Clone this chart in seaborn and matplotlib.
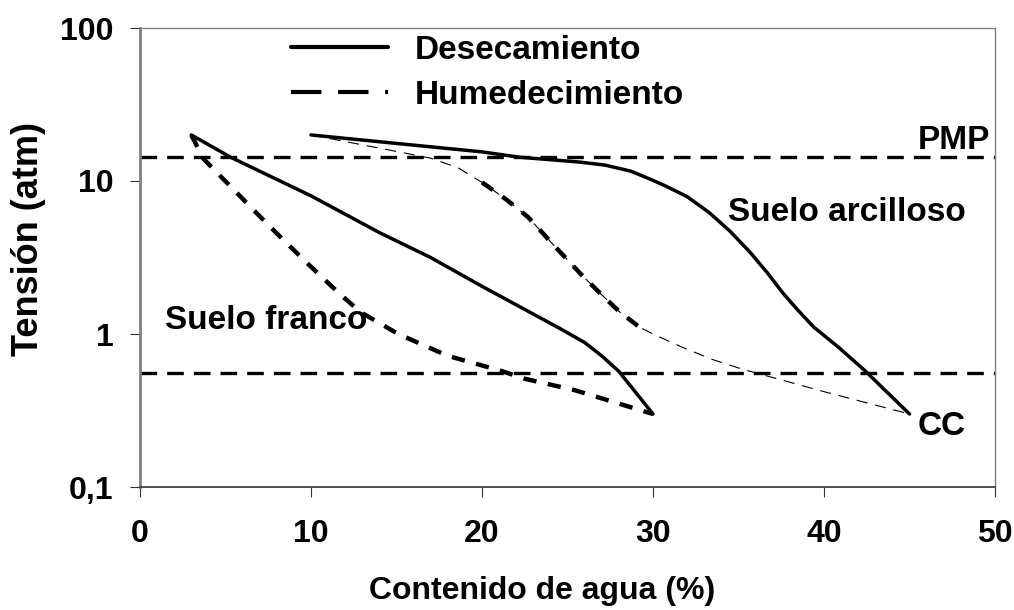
import matplotlib
matplotlib.use("Agg")
import matplotlib.pyplot as plt
import seaborn as sns
import pandas as pd
from matplotlib.lines import Line2D
from matplotlib.ticker import FixedLocator, NullLocator, FixedFormatter

# ---------------- data ----------------
franco_dry_x = [3, 5.3, 10, 14, 17, 20, 24.6, 26, 27, 28, 30]
franco_dry_y = [20, 14.3, 8, 4.6, 3.16, 2.05, 1.08, 0.88, 0.72, 0.57, 0.3]

franco_wet_x = [3, 3.7, 5.1, 6.8, 8.4, 10, 11.7, 12.9, 15.1, 18, 21.1, 22.5, 25.4, 28.4, 30]
franco_wet_y = [20, 14, 9.7, 6.2, 4.1, 2.75, 1.82, 1.39, 1.0, 0.72, 0.575, 0.51, 0.43, 0.34, 0.3]

arc_dry_x = [10, 15, 20, 22.2, 25.7, 27.2, 28.7, 30, 30.8, 32, 33.3, 34.5, 35.7, 36.7, 37.6, 38.5, 39.4, 40.9, 42.4, 45]
arc_dry_y = [20, 17.6, 15.5, 14.3, 13.3, 12.7, 11.6, 10.1, 9.2, 7.9, 6.2, 4.7, 3.4, 2.5, 1.85, 1.42, 1.11, 0.81, 0.575, 0.3]

arc_wet_x = [10, 14, 17, 18.6, 20, 21.4, 22.7, 24.2, 25.8, 26.9, 28, 29.2, 30, 31.7, 33.5, 35.2, 40, 45]
arc_wet_y = [20, 16.4, 14.1, 12.2, 9.8, 7.6, 5.8, 3.8, 2.45, 1.85, 1.41, 1.11, 1.0, 0.82, 0.68, 0.59, 0.42, 0.3]
arc_wet_thick = (4, 12)  # index range drawn with thick dashes

PMP = 14.3
CC = 0.56

x_ticks = [0, 10, 20, 30, 40, 50]
y_ticks = [0.1, 1, 10, 100]
y_tick_labels = ["0,1", "1", "10", "100"]

legend_labels = ["Desecamiento", "Humedecimiento"]

# ---------------- style ----------------
sns.set_theme(style="white")
plt.rcParams['font.family'] = ['Liberation Sans', 'DejaVu Sans']
plt.rcParams['font.weight'] = 'bold'
plt.rcParams['text.color'] = 'black'
plt.rcParams['axes.labelcolor'] = 'black'
plt.rcParams['xtick.color'] = 'black'
plt.rcParams['ytick.color'] = 'black'

fig = plt.figure(figsize=(10.14, 6.10), dpi=100)
ax = fig.add_axes([140/1014, 1 - 487/610, 855/1014, 459/610])

def draw(x, y, lw, dashes=None):
    df = pd.DataFrame({"x": x, "y": y})
    n0 = len(ax.lines)
    sns.lineplot(data=df, x="x", y="y", ax=ax, color="black", lw=lw,
                 sort=False, estimator=None, legend=False)
    line = ax.lines[n0]
    line.set_solid_capstyle("round")
    line.set_solid_joinstyle("round")
    if dashes is not None:
        line.set_dashes(dashes)
        line.set_dash_capstyle("butt")
    return line

# reference lines
ax.axhline(PMP, color="black", lw=2.4, dashes=(5, 3), zorder=1)
ax.axhline(CC, color="black", lw=2.4, dashes=(5, 3), zorder=1)

# franco
draw(franco_dry_x, franco_dry_y, 2.5)
draw(franco_wet_x, franco_wet_y, 3.2, dashes=(3, 2.6))

# arcilloso
draw(arc_dry_x, arc_dry_y, 2.5)
draw(arc_wet_x, arc_wet_y, 0.8, dashes=(10, 7))
i0, i1 = arc_wet_thick
draw(arc_wet_x[i0:i1], arc_wet_y[i0:i1], 3.2, dashes=(3, 2.6))

ax.set_yscale("log")
ax.set_xlim(0, 50)
ax.set_ylim(0.1, 100)
ax.xaxis.set_major_locator(FixedLocator(x_ticks))
ax.yaxis.set_major_locator(FixedLocator(y_ticks))
ax.yaxis.set_major_formatter(FixedFormatter(y_tick_labels))
ax.yaxis.set_minor_locator(NullLocator())
ax.xaxis.set_minor_locator(NullLocator())

ax.tick_params(axis="both", which="major", direction="out", length=7, width=0.8,
               color="#333333", labelsize=23, labelcolor="black",
               bottom=True, left=True)
ax.tick_params(axis="x", pad=16)
ax.tick_params(axis="y", pad=12)
for lbl in ax.get_xticklabels() + ax.get_yticklabels():
    lbl.set_fontweight("bold")

for side in ["top", "right"]:
    ax.spines[side].set_color("#808080")
    ax.spines[side].set_linewidth(1.0)
ax.spines["left"].set_color("#808080")
ax.spines["left"].set_linewidth(2.0)
ax.spines["bottom"].set_color("#333333")
ax.spines["bottom"].set_linewidth(1.2)

ax.set_xlabel("Contenido de agua (%)", fontsize=23, fontweight="bold")
ax.set_ylabel("Tensión (atm)", fontsize=26, fontweight="bold")
ax.xaxis.set_label_coords((542 - 140) / 855, -(576 - 487) / 459)
ax.yaxis.set_label_coords(-(140 - 46) / 855, (487 - 239) / 459)

# annotations
ax.text(34.4, 6.27, "Suelo arcilloso", fontsize=24, fontweight="bold", va="center", ha="left")
ax.text(1.46, 1.22, "Suelo franco", fontsize=24, fontweight="bold", va="center", ha="left")
ax.text(45.5, 18.5, "PMP", fontsize=24, fontweight="bold", va="center", ha="left")
ax.text(45.5, 0.247, "CC", fontsize=24, fontweight="bold", va="center", ha="left")

# legend
handles = [Line2D([], [], color="black", lw=3.0, solid_capstyle="round"),
           Line2D([], [], color="black", lw=3.0, dashes=(7.3, 4))]
leg = ax.legend(handles, legend_labels, loc="upper left",
                bbox_to_anchor=((273 - 140) / 855, 1.025), frameon=False,
                fontsize=24, handlelength=2.9, handletextpad=0.8,
                labelspacing=0.42, borderaxespad=0.15)
for t in leg.get_texts():
    t.set_fontweight("bold")

fig.savefig("out.png", dpi=100)
